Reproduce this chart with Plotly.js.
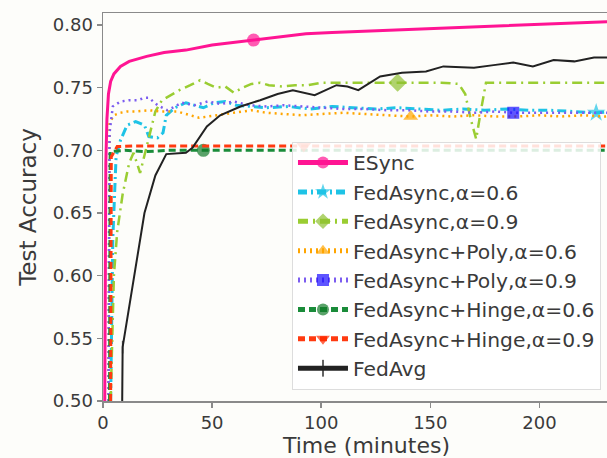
<!DOCTYPE html>
<html>
<head>
<meta charset="utf-8">
<script src="https://cdn.plot.ly/plotly-3.0.1.min.js"></script>
<style>
html,body{margin:0;padding:0;overflow:hidden;background:#fdfdfa;}
#chart{width:630px;height:458px;}
</style>
</head>
<body>
<div id="chart"></div>
<script>
// ---- data ----
const seriesNames = ["ESync","FedAsync,α=0.6","FedAsync,α=0.9","FedAsync+Poly,α=0.6","FedAsync+Poly,α=0.9","FedAsync+Hinge,α=0.6","FedAsync+Hinge,α=0.9","FedAvg"];

const esyncX = [0.8,1,1.3,1.8,2.5,3.5,5,8,12,16,20,28,38,50,60,69,80,93,105,120,135,150,165,180,195,210,225,236];
const esyncY = [0.50,0.62,0.69,0.725,0.745,0.755,0.761,0.767,0.771,0.773,0.775,0.778,0.780,0.784,0.786,0.788,0.790,0.793,0.794,0.795,0.796,0.797,0.798,0.799,0.800,0.801,0.802,0.803];
const esyncMark = [69];

const fa06X = [3.5,4.5,6,8,11,15,19,21,25,27.5,29,33,38,42,46,51,56,61,67,75,85,95,105,115,125,135,145,155,165,175,185,195,205,215,226,236];
const fa06Y = [0.50,0.63,0.695,0.708,0.720,0.723,0.720,0.711,0.710,0.714,0.728,0.734,0.738,0.736,0.734,0.738,0.739,0.736,0.735,0.734,0.735,0.733,0.735,0.734,0.733,0.734,0.733,0.732,0.733,0.732,0.733,0.732,0.732,0.731,0.730,0.731];
const fa06Mark = [226];

const fa09X = [3.5,5,6.5,9,12,14,17,20,24,27,31,35,40,44.5,48,52,56,60,64,68,72,76,82,88,94,100,108,118,128,135,145,155,163,166,168.5,171,173,175.5,180,190,200,210,220,230,236];
const fa09Y = [0.50,0.60,0.635,0.665,0.690,0.698,0.682,0.703,0.731,0.740,0.744,0.748,0.752,0.756,0.753,0.750,0.751,0.746,0.750,0.753,0.754,0.752,0.751,0.752,0.752,0.754,0.754,0.754,0.754,0.754,0.754,0.754,0.753,0.745,0.725,0.709,0.730,0.754,0.754,0.754,0.754,0.754,0.754,0.754,0.754];
const fa09Mark = [135];

const poly06X = [2.5,3,5,8,11,15,21,27,34,40,44,48,52,58,64,68,75,83,91,100,110,120,130,141,150,160,170,180,190,200,210,220,230,236];
const poly06Y = [0.50,0.722,0.728,0.730,0.731,0.731,0.732,0.731,0.731,0.728,0.726,0.727,0.728,0.730,0.731,0.732,0.730,0.729,0.728,0.729,0.730,0.729,0.728,0.727,0.728,0.727,0.728,0.727,0.727,0.728,0.727,0.728,0.727,0.728];
const poly06Mark = [141];

const poly09X = [2.5,3,4.5,8,12,16,19,21,25,29.5,33,36,42,48,54,60,67,75,83,91,100,110,120,130,140,150,160,170,180,188,198,208,218,228,236];
const poly09Y = [0.50,0.714,0.735,0.739,0.740,0.740,0.742,0.742,0.736,0.732,0.735,0.738,0.736,0.739,0.737,0.739,0.736,0.735,0.736,0.735,0.734,0.733,0.733,0.732,0.732,0.731,0.731,0.730,0.731,0.730,0.730,0.730,0.730,0.730,0.730];
const poly09Mark = [188];

const hinge06X = [3,3.3,10,20,30,46,60,80,100,120,140,160,180,200,220,236];
const hinge06Y = [0.50,0.699,0.700,0.699,0.700,0.700,0.700,0.700,0.700,0.700,0.700,0.700,0.700,0.700,0.700,0.700];
const hinge06Mark = [46];

const hinge09X = [3.5,3.8,6.5,15,30,50,70,92,110,130,150,170,190,210,236];
const hinge09Y = [0.50,0.695,0.703,0.7035,0.7035,0.7035,0.7035,0.7035,0.7035,0.7035,0.7035,0.7035,0.7035,0.7035,0.7035];
const hinge09Mark = [92];

const avgX = [8.8,9,19,24,29,38,41,47.6,53.7,63,72,80,87,97,107,112,117,127,137,148,156,166,170,179,188,197,206.5,216,225,236];
const avgY = [0.50,0.543,0.650,0.680,0.697,0.698,0.702,0.719,0.728,0.735,0.740,0.745,0.748,0.744,0.752,0.751,0.748,0.759,0.762,0.763,0.767,0.766,0.766,0.768,0.770,0.767,0.772,0.771,0.774,0.774];
const avgMark = [9];

const xTicks = [0,50,100,150,200];
const yTicks = [0.50,0.55,0.60,0.65,0.70,0.75,0.80];
const yTickText = ["0.50","0.55","0.60","0.65","0.70","0.75","0.80"];

// ---- build traces ----
function sizes(xs, marks, s){ return xs.map(v => marks.includes(v) ? s : 0); }
function tr(i, xs, ys, marks, lineColor, markColor, dash, lw, symbol, msize, extra){
  const t = {
    x: xs, y: ys, name: seriesNames[i], type: 'scatter', mode: 'lines+markers',
    line: {color: lineColor, width: lw, dash: dash},
    marker: {color: markColor, symbol: symbol, size: sizes(xs, marks, msize), line:{width:0}}
  };
  if (extra) Object.assign(t.marker, extra);
  return t;
}
const traces = [
  tr(0, esyncX, esyncY, esyncMark, '#ff1493', '#ff1493', 'solid', 3, 'circle', 13),
  tr(1, fa06X, fa06Y, fa06Mark, '#1ec3e6', '#1ec3e6', '9px,4px,2px,4px', 3, 'star', 14),
  tr(2, fa09X, fa09Y, fa09Mark, '#9acd32', '#8ec030', '10px,5px,2px,5px', 2.5, 'diamond', 14),
  tr(3, poly06X, poly06Y, poly06Mark, '#ffa500', '#ffa500', '2px,4px', 2.5, 'triangle-up', 13),
  tr(4, poly09X, poly09Y, poly09Mark, '#7b5cf0', '#1a0dff', '2px,4px', 2.5, 'square', 12),
  tr(5, hinge06X, hinge06Y, hinge06Mark, '#1a8c3a', '#127a2a', '7px,4px', 3, 'circle', 13),
  tr(6, hinge09X, hinge09Y, hinge09Mark, '#ff3a10', '#ff2a00', '7px,4px', 3, 'triangle-down', 13),
  tr(7, avgX, avgY, avgMark, '#222222', '#222222', 'solid', 2, 'line-ns', 9, {line:{width:1.5, color:'#222222'}})
];

const axisCol = '#8a8a8a';
const txtCol = '#3a3a3a';
const layout = {
  width: 630, height: 458,
  margin: {l: 103, r: 0, t: 13, b: 57},
  paper_bgcolor: '#fdfdfa', plot_bgcolor: '#fdfdfa',
  font: {family: 'DejaVu Sans', color: txtCol, size: 18},
  showlegend: true,
  legend: {
    x: 0.3586, y: 0.668, xanchor: 'left', yanchor: 'top',
    bgcolor: 'rgba(255,255,255,0.85)', bordercolor: '#dddddd', borderwidth: 1,
    font: {family: 'DejaVu Sans', size: 20.3, color: txtCol},
    itemsizing: 'constant', traceorder: 'normal', itemwidth: 50
  },
  xaxis: {
    range: [0, 241.5], tickvals: xTicks, ticktext: xTicks.map(String),
    showgrid: false, zeroline: false, showline: true, mirror: true,
    linecolor: axisCol, linewidth: 1.5, ticks: 'outside', ticklen: 5, tickwidth: 1.5, tickcolor: axisCol,
    tickfont: {size: 18, color: txtCol},
    title: {text: 'Time (minutes)', font: {size: 22, color: txtCol}, standoff: 4}
  },
  yaxis: {
    range: [0.5, 0.8096], tickvals: yTicks, ticktext: yTickText,
    showgrid: false, zeroline: false, showline: true,
    linecolor: axisCol, linewidth: 1.5, ticks: 'outside', ticklen: 5, tickwidth: 1.5, tickcolor: axisCol,
    tickfont: {size: 18, color: txtCol},
    title: {text: 'Test Accuracy', font: {size: 23, color: txtCol}, standoff: 10}
  }
};
Plotly.newPlot('chart', traces, layout, {displayModeBar: false, staticPlot: true});
</script>
</body>
</html>
